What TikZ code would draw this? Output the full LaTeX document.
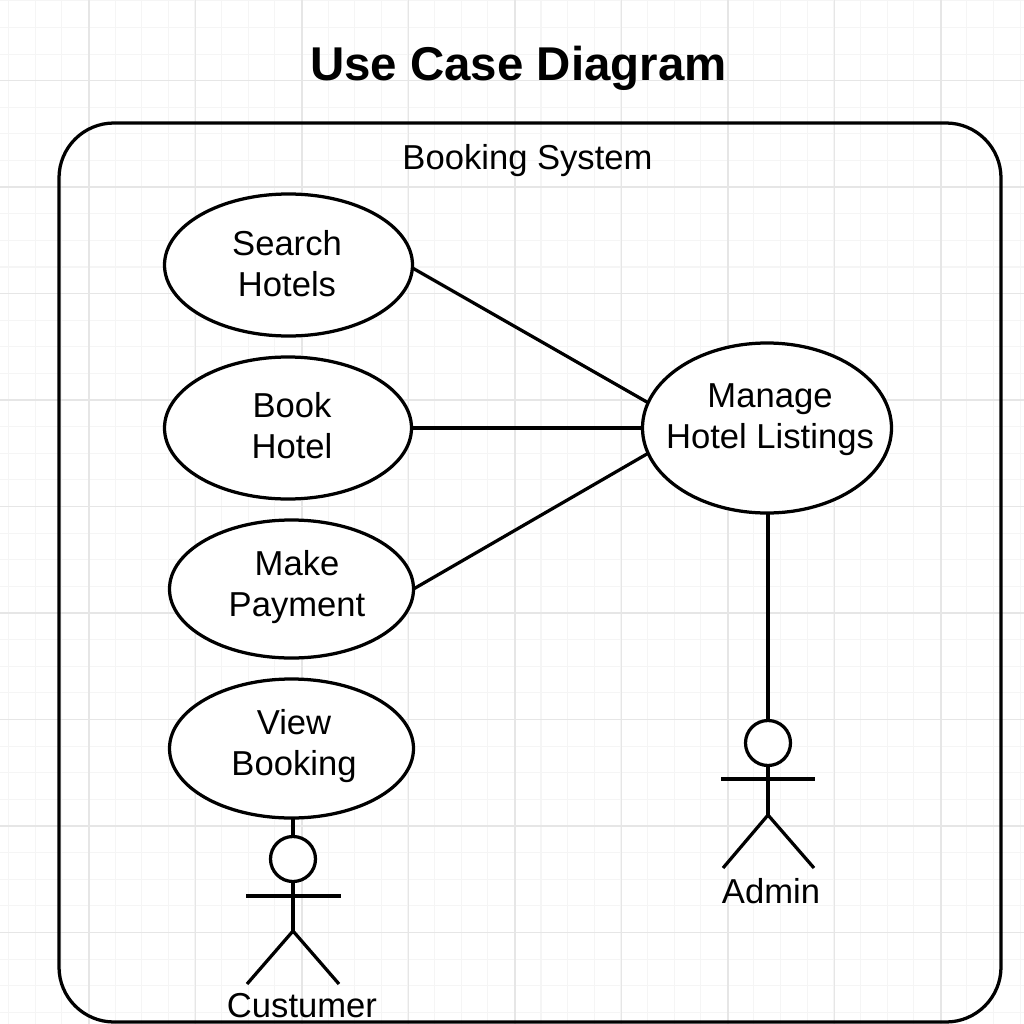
\documentclass[tikz,border=0pt]{standalone}
\usepackage{fontspec}
\setmainfont{Liberation Sans}
\usetikzlibrary{shapes.geometric}
\definecolor{gridminor}{HTML}{F5F5F5}
\definecolor{gridmajor}{HTML}{E6E6E6}
\newcommand{\ux}{0.02cm}
\tikzset{
  umlline/.style={line width=1.85pt,black},
  usecase/.style={ellipse,draw,umlline,fill=white,outer sep=0pt,inner sep=0pt},
  usetext/.style={font=\fontsize{19.7pt}{23.3pt}\selectfont,align=center,inner sep=0pt},
  actorhead/.style={circle,draw,umlline,fill=white,outer sep=0pt,inner sep=0pt,minimum size=45*\ux},
  actorline/.style={line width=1.85pt,black},
}
\begin{document}
\begin{tikzpicture}[x=0.02cm,y=-0.02cm]
\useasboundingbox (0,0) rectangle (1024,1024);
\fill[white] (0,0) rectangle (1024,1024);
% grid
\foreach \k in {0,...,38}{
  \pgfmathsetmacro{\gx}{8.6+26.62*\k}
  \pgfmathsetmacro{\gy}{0.8+26.62*\k}
  \draw[gridminor,line width=0.6pt] (\gx,0) -- (\gx,1024);
  \draw[gridminor,line width=0.6pt] (0,\gy) -- (1024,\gy);
}
\foreach \k in {0,...,8}{
  \pgfmathsetmacro{\gx}{89+106.5*\k}
  \pgfmathsetmacro{\gy}{80.5+106.5*\k}
  \draw[gridmajor,line width=0.7pt] (\gx,0) -- (\gx,1024);
  \draw[gridmajor,line width=0.7pt] (0,\gy) -- (1024,\gy);
}
% title and system
\node[font=\bfseries\fontsize{27pt}{30pt}\selectfont,inner sep=0pt] (title) at (518.5,68) {Use Case Diagram};
\node[draw,umlline,rounded corners=55*\ux,minimum width=942*\ux,minimum height=899*\ux,outer sep=0pt,inner sep=0pt] (system) at (530,572.5) {};
\node[usetext] (systemlabel) at (527.5,161) {Booking System};
% use cases
\node[usecase,minimum width=248*\ux,minimum height=142*\ux] (search) at (288.5,265) {};
\node[usecase,minimum width=247*\ux,minimum height=142*\ux] (book) at (288,428) {};
\node[usecase,minimum width=244*\ux,minimum height=138*\ux] (make) at (291.5,589) {};
\node[usecase,minimum width=244*\ux,minimum height=139*\ux] (view) at (291.5,748.5) {};
\node[usecase,minimum width=249*\ux,minimum height=170*\ux] (manage) at (767,428) {};
\node[usetext] (searchtext) at (287,264) {Search\\Hotels};
\node[usetext] (booktext) at (292,426) {Book\\Hotel};
\node[usetext] (maketext) at (297,587) {Make\\Payment};
\node[usetext] (viewtext) at (294,746) {View\\Booking};
\node[usetext] (managetext) at (770,420) {Manage\\Hotel Listings};
% admin actor
\node[actorhead] (adminhead) at (768,743) {};
\coordinate (adminhip) at (768,815);
\coordinate (adminarml) at (721,779);
\coordinate (adminarmr) at (815,779);
\coordinate (adminlegl) at (723,868);
\coordinate (adminlegr) at (814,868);
\draw[actorline] (adminhead.south) -- (adminhip);
\draw[actorline] (adminarml) -- (adminarmr);
\draw[actorline] (adminlegl) -- (adminhip) -- (adminlegr);
\node[usetext] (adminlabel) at (771,891) {Admin};
% customer actor
\node[actorhead] (custhead) at (293,859) {};
\coordinate (custhip) at (293,931);
\coordinate (custarml) at (246,896);
\coordinate (custarmr) at (341,896);
\coordinate (custlegl) at (247,984);
\coordinate (custlegr) at (339,984);
\draw[actorline] (custhead.south) -- (custhip);
\draw[actorline] (custarml) -- (custarmr);
\draw[actorline] (custlegl) -- (custhip) -- (custlegr);
\node[usetext] (custlabel) at (302,1006) {Custumer};
% connectors
\draw[actorline] (search.east) ++(0,3) -- (manage.168);
\draw[actorline] (book.east) -- (manage.west);
\draw[actorline] (make.east) -- (manage.192);
\draw[actorline] (adminhead.north |- manage.south) -- (adminhead.north);
\draw[actorline] (custhead.north |- view.south) -- (custhead.north);
\end{tikzpicture}
\end{document}
